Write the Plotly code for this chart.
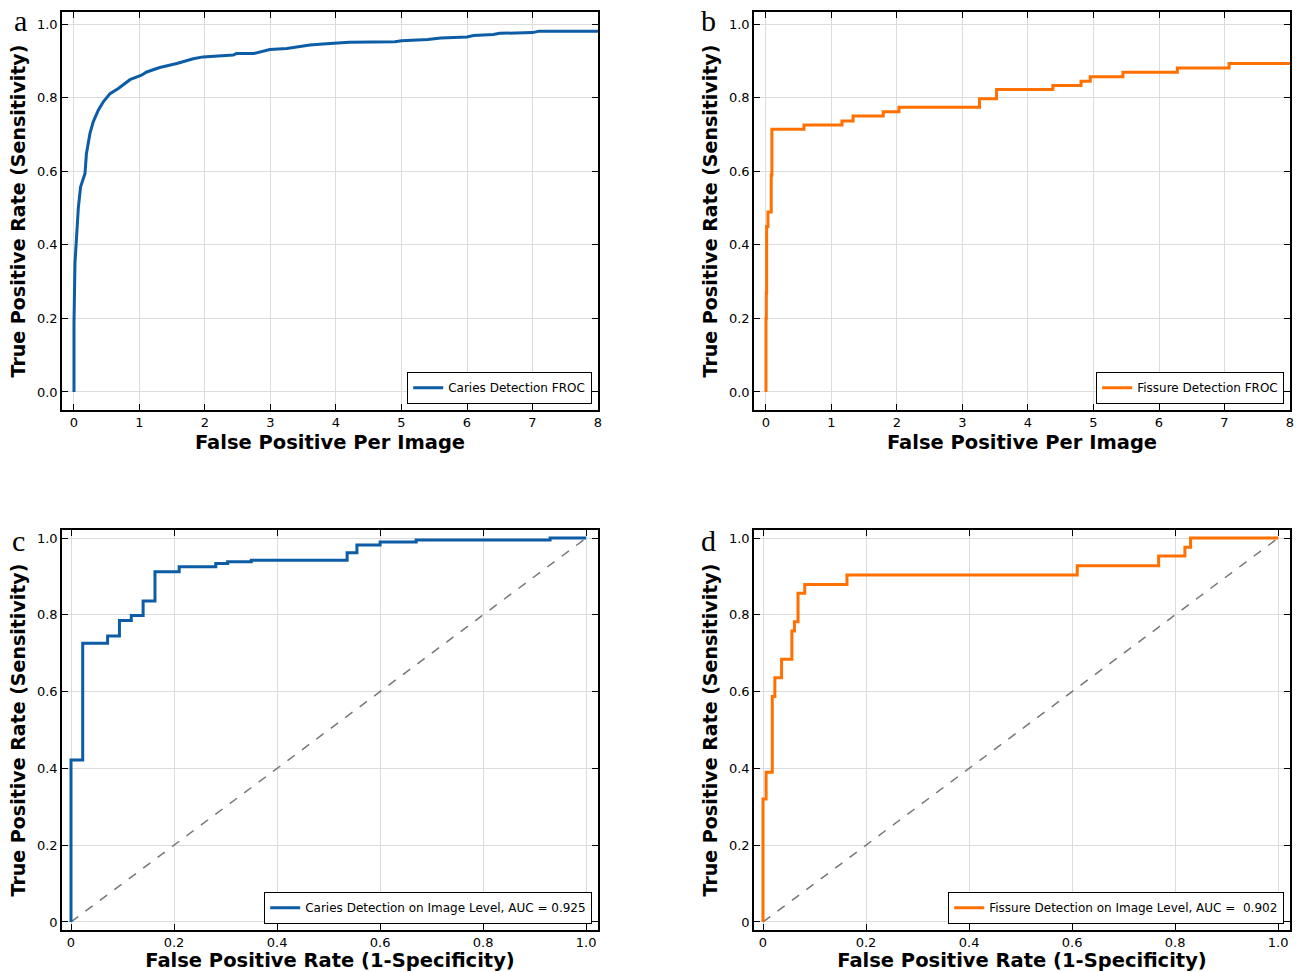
import plotly.graph_objects as go

# ---------------- data ----------------
# Panel a: Caries FROC
caries_froc_fppi = [0.0, 0.0, 0.015, 0.04, 0.066, 0.10, 0.168, 0.19, 0.244, 0.295, 0.371, 0.448,
                    0.55, 0.677, 0.855, 1.03, 1.11, 1.31, 1.57, 1.82, 1.97, 2.43, 2.48, 2.74,
                    2.99, 3.25, 3.6, 3.8, 4.0, 4.2, 4.9, 5.0, 5.4, 5.6, 6.0, 6.1, 6.4, 6.5,
                    7.0, 7.1, 8.0]
caries_froc_sens = [0.0, 0.187, 0.35, 0.42, 0.50, 0.557, 0.594, 0.648, 0.703, 0.735, 0.766, 0.789,
                    0.811, 0.825, 0.849, 0.861, 0.870, 0.882, 0.893, 0.906, 0.911, 0.916, 0.920, 0.920,
                    0.931, 0.934, 0.943, 0.946, 0.948, 0.951, 0.952, 0.955, 0.958, 0.962, 0.965, 0.969,
                    0.972, 0.975, 0.977, 0.981, 0.981]

# Panel b: Fissure FROC (step curve)
fissure_froc_fppi = [0.0, 0.0, 0.005, 0.01, 0.03, 0.08, 0.09, 0.58, 1.16, 1.33, 1.79, 2.03,
                     3.26, 3.52, 4.38, 4.81, 4.95, 5.45, 6.28, 7.07, 8.0]
fissure_froc_sens = [0.0, 0.20, 0.27, 0.45, 0.489, 0.59, 0.714, 0.726, 0.737, 0.75, 0.762, 0.774,
                     0.797, 0.822, 0.833, 0.845, 0.857, 0.869, 0.881, 0.893, 0.893]

# Panel c: Caries ROC (image level)
caries_roc_fpr = [0.0, 0.0, 0.0227, 0.071, 0.094, 0.117, 0.140, 0.163, 0.210, 0.281, 0.304,
                  0.35, 0.536, 0.555, 0.60, 0.67, 0.93, 1.0]
caries_roc_tpr = [0.0, 0.422, 0.726, 0.745, 0.785, 0.798, 0.836, 0.912, 0.925, 0.934, 0.938,
                  0.942, 0.962, 0.982, 0.990, 0.995, 1.0, 1.0]

# Panel d: Fissure ROC (image level)
fissure_roc_fpr = [0.0, 0.0, 0.006, 0.006, 0.018, 0.023, 0.036, 0.056, 0.061, 0.068, 0.081,
                   0.163, 0.610, 0.768, 0.819, 0.830, 1.0]
fissure_roc_tpr = [0.0, 0.32, 0.34, 0.39, 0.587, 0.636, 0.684, 0.758, 0.782, 0.856, 0.879,
                   0.904, 0.928, 0.953, 0.976, 1.0, 1.0]

chance_x = [0, 1]
chance_y = [0, 1]

names = ["Caries Detection FROC", "Fissure Detection FROC",
         "Caries Detection on Image Level, AUC = 0.925",
         "Fissure Detection on Image Level, AUC =  0.902"]
panel_letters = ["a", "b", "c", "d"]

froc_ticks = [0, 1, 2, 3, 4, 5, 6, 7, 8]
froc_ticktext = ["0", "1", "2", "3", "4", "5", "6", "7", "8"]
froc_yticks = [0, 0.2, 0.4, 0.6, 0.8, 1.0]
froc_yticktext = ["0.0", "0.2", "0.4", "0.6", "0.8", "1.0"]
roc_ticks = [0, 0.2, 0.4, 0.6, 0.8, 1.0]
roc_ticktext = ["0", "0.2", "0.4", "0.6", "0.8", "1.0"]

BLUE = "#0C5DA5"
ORANGE = "#FF7000"
W, H = 1296, 972

fig = go.Figure()

# pixel boxes of the four plot areas (left, top, right, bottom)
boxes = [(62, 12, 598, 410), (754, 12, 1290, 410), (62, 530, 598, 930), (754, 530, 1290, 930)]

def dom(b):
    l, t, r, btm = b
    return [l / W, r / W], [1 - btm / H, 1 - t / H]

traces = [
    (caries_froc_fppi, caries_froc_sens, BLUE, "linear"),
    (fissure_froc_fppi, fissure_froc_sens, ORANGE, "hv"),
    (caries_roc_fpr, caries_roc_tpr, BLUE, "hv"),
    (fissure_roc_fpr, fissure_roc_tpr, ORANGE, "hv"),
]
legend_ids = ["legend", "legend2", "legend3", "legend4"]

for i, (xs, ys, col, shape) in enumerate(traces):
    ax = "" if i == 0 else str(i + 1)
    if i >= 2:
        fig.add_trace(go.Scatter(x=chance_x, y=chance_y, mode="lines",
                                 line=dict(color="#777777", width=1.5, dash="dash"),
                                 showlegend=False, xaxis="x" + ax, yaxis="y" + ax))
    fig.add_trace(go.Scatter(x=xs, y=ys, mode="lines", name=names[i],
                             line=dict(color=col, width=3, shape=shape),
                             xaxis="x" + ax, yaxis="y" + ax, legend=legend_ids[i]))

axis_common = dict(showline=True, linecolor="black", linewidth=1.5, mirror="ticks",
                   ticks="inside", ticklen=6, tickwidth=1.2, tickcolor="black",
                   showgrid=True, gridcolor="#dcdcdc", gridwidth=1, zeroline=False,
                   automargin=False,
                   tickfont=dict(family="DejaVu Sans", size=13, color="black"))
title_font = dict(family="DejaVu Sans", size=19.5, color="black", weight="bold")
ytitle_font = dict(family="DejaVu Sans", size=19, color="black", weight="bold")

layout = {}
for i, b in enumerate(boxes):
    xd, yd = dom(b)
    key = "" if i == 0 else str(i + 1)
    if i < 2:
        xr = [-0.183, 8.0]
        yr = [-0.049, 1.033]
        xt, xtt, yt, ytt = froc_ticks, froc_ticktext, froc_yticks, froc_yticktext
        xtitle = "False Positive Per Image"
    else:
        xr = [-0.0175, 1.023]
        yr = [-0.021, 1.021]
        xt, xtt, yt, ytt = roc_ticks, roc_ticktext, roc_ticks, roc_ticktext
        xtitle = "False Positive Rate (1-Specificity)"
    layout["xaxis" + key] = dict(axis_common, domain=xd, range=xr, tickvals=xt, ticktext=xtt,
                                 anchor="y" + key,
                                 title=dict(text=xtitle, font=title_font, standoff=6))
    layout["yaxis" + key] = dict(axis_common, domain=yd, range=yr, tickvals=yt, ticktext=ytt,
                                 anchor="x" + key,
                                 title=dict(text="True Positive Rate (Sensitivity)", font=ytitle_font,
                                            standoff=6))
    l, t, r, btm = b
    layout[legend_ids[i]] = dict(x=(r - 6) / W, y=1 - (btm - 6) / H, xanchor="right", yanchor="bottom",
                                 bgcolor="white", bordercolor="black", borderwidth=1.2,
                                 font=dict(family="DejaVu Sans", size=12, color="black"),
                                 itemwidth=30, tracegroupgap=0)

annotations = []
letter_pos = [(20, 20), (708, 20), (18, 540), (708, 540)]
for letter, (px, py) in zip(panel_letters, letter_pos):
    annotations.append(dict(text=letter, x=px / W, y=1 - py / H, xref="paper", yref="paper",
                            xanchor="center", yanchor="middle", showarrow=False,
                            font=dict(family="Liberation Serif", size=30, color="black")))

fig.update_layout(**layout)
fig.update_layout(width=W, height=H, margin=dict(l=0, r=0, t=0, b=0, autoexpand=False),
                  paper_bgcolor="white", plot_bgcolor="white", annotations=annotations,
                  showlegend=True)

fig.write_html("out.html", config={"displayModeBar": False},
               post_script="document.body.style.margin='0';document.body.style.overflow='hidden';")
